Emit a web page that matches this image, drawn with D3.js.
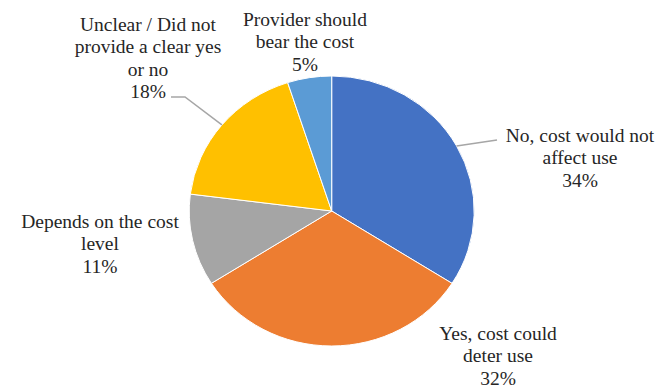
<!DOCTYPE html>
<meta charset="utf-8">
<script src="https://d3js.org/d3.v7.min.js"></script>
<style>
  body { margin: 0; background: #fff; }
  text { font-family: "Liberation Serif", "DejaVu Serif", "Times New Roman", serif; }
</style>
<div id="pie_Viz"></div>
<script>
    // data
    const categories = ["No, cost would not affect use", "Yes, cost could deter use", "Depends on the cost level",
        "Unclear / Did not provide a clear yes or no", "Provider should bear the cost"];
    const labelLines = [
        ["No, cost would not", "affect use"],
        ["Yes, cost could", "deter use"],
        ["Depends on the cost", "level"],
        ["Unclear / Did not", "provide a clear yes", "or no"],
        ["Provider should", "bear the cost"]
    ];
    const values = [34, 32, 11, 18, 5];
    const colors = ["#4472C4", "#ED7D31", "#A5A5A5", "#FFC000", "#5B9BD5"];

    // layout
    const width = 664, height = 387;
    const cx = 331.7, cy = 211, rx = 142.5, ry = 135;
    // label text anchor (centre x, first baseline) and leader line ends
    const labelPos = [[580, 142], [498, 340], [100, 228], [148, 31], [305, 26]];
    const leaders = [[[497, 140]], null, null, [[185, 97], [171, 97]], null];

    const svg = d3.select("#pie_Viz")
      .append("svg")
        .attr("width", width)
        .attr("height", height);

    const total = d3.sum(values);
    const pie = d3.pie().sort(null).value(d => d)(values);
    const arc = d3.arc().innerRadius(0).outerRadius(rx);

    // slightly squashed pie like the original picture
    svg.append("g")
        .attr("transform", `translate(${cx},${cy}) scale(1,${ry / rx})`)
      .selectAll("path")
      .data(pie)
      .join("path")
        .attr("d", arc)
        .attr("fill", (d, i) => colors[i])
        .attr("stroke", "#fff")
        .attr("stroke-width", 1)
        .attr("vector-effect", "non-scaling-stroke");

    // leader lines
    pie.forEach((d, i) => {
        if (!leaders[i]) return;
        const a = (d.startAngle + d.endAngle) / 2;
        const pts = [[cx + Math.sin(a) * rx, cy - Math.cos(a) * ry]].concat(leaders[i]);
        svg.append("path")
          .attr("d", d3.line()(pts))
          .attr("fill", "none")
          .attr("stroke", "#A6A6A6")
          .attr("stroke-width", 1.5);
    });

    // labels
    const lineH = 22.3;
    categories.forEach((c, i) => {
        const t = svg.append("text")
          .attr("text-anchor", "middle")
          .attr("font-family", "Liberation Serif, serif")
          .attr("font-size", "19.5px")
          .attr("fill", "#262626");
        const lines = labelLines[i].concat([Math.round(values[i] / total * 100) + "%"]);
        lines.forEach((l, j) => {
            t.append("tspan")
              .attr("x", labelPos[i][0])
              .attr("y", labelPos[i][1] + j * lineH)
              .text(l);
        });
    });
</script>
